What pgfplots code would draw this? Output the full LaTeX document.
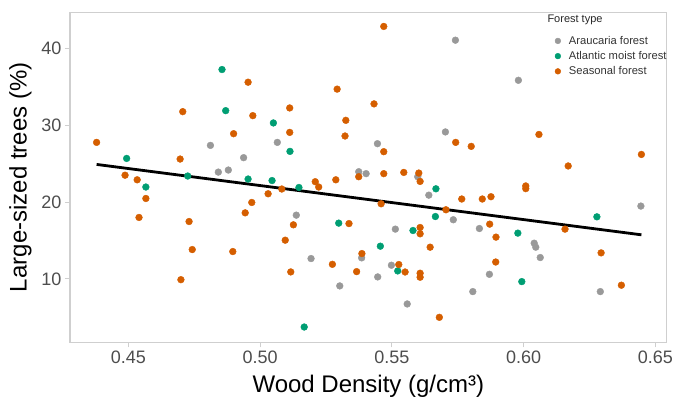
\documentclass[border=0pt]{standalone}
\usepackage{pgfplots}
\pgfplotsset{compat=1.18}
\usepackage{pgfplotstable}
\usepackage{fontspec}
\setmainfont{Liberation Sans}

\definecolor{araucaria}{HTML}{999999}
\definecolor{atlantic}{HTML}{009E73}
\definecolor{seasonal}{HTML}{D55E00}
\definecolor{panelgray}{HTML}{CFCFCF}
\definecolor{ticktext}{HTML}{4D4D4D}

% wood density (g/cm^3) vs share of large-sized trees (%)
\pgfplotstableread{
wd     lt
0.4811 27.38
0.4841 23.90
0.4879 24.17
0.4937 25.78
0.5065 27.77
0.5137 18.30
0.5193 12.65
0.5302 9.09
0.5374 23.95
0.5402 23.70
0.5385 12.74
0.5445 27.60
0.5446 10.26
0.5498 11.78
0.5513 16.48
0.5558 6.74
0.5598 23.30
0.5640 20.90
0.5703 29.13
0.5733 17.70
0.5741 41.07
0.5807 8.35
0.5832 16.56
0.5870 10.60
0.5980 35.85
0.6040 14.65
0.6046 14.13
0.6063 12.78
0.6291 8.35
0.6445 19.48
}\araucariadata

\pgfplotstableread{
wd     lt
0.4493 25.68
0.4566 21.96
0.4725 23.39
0.4855 37.25
0.4869 31.90
0.4954 23.00
0.5045 22.80
0.5050 30.30
0.5113 26.60
0.5147 21.90
0.5167 3.74
0.5298 17.26
0.5456 14.26
0.5522 11.04
0.5580 16.30
0.5665 18.12
0.5667 21.73
0.5993 9.65
0.5978 15.96
0.6278 18.08
}\atlanticdata

\pgfplotstableread{
wd     lt
0.4379 27.77
0.4487 23.50
0.4533 22.90
0.4566 20.47
0.4540 18.00
0.4696 25.60
0.4706 31.77
0.4730 17.47
0.4742 13.82
0.4699 9.90
0.4899 28.90
0.4896 13.56
0.4943 18.60
0.4954 35.60
0.4968 19.95
0.4972 31.25
0.5030 21.08
0.5082 21.70
0.5095 15.04
0.5112 32.25
0.5112 29.07
0.5116 10.91
0.5126 17.04
0.5209 22.65
0.5222 21.96
0.5274 11.90
0.5287 22.90
0.5292 34.70
0.5322 28.60
0.5325 30.64
0.5337 17.20
0.5366 10.95
0.5374 23.30
0.5386 13.30
0.5432 32.78
0.5459 19.78
0.5469 42.86
0.5469 26.56
0.5469 23.70
0.5526 11.87
0.5545 23.86
0.5550 10.90
0.5602 23.78
0.5607 22.69
0.5607 16.69
0.5607 15.87
0.5607 10.74
0.5607 10.22
0.5645 14.13
0.5680 5.00
0.5705 19.00
0.5742 27.77
0.5765 20.40
0.5801 27.25
0.5843 20.40
0.5871 17.13
0.5876 20.70
0.5894 12.20
0.5895 15.44
0.6008 21.75
0.6008 22.10
0.6058 28.80
0.6157 16.48
0.6169 24.70
0.6294 13.39
0.6371 9.18
0.6447 26.20
}\seasonaldata

\begin{document}
\begin{tikzpicture}
\useasboundingbox (-70pt,-57.7pt) rectangle (604pt,342.3pt);
\begin{axis}[
  scale only axis,
  width=596.7pt, height=330pt,
  xmin=0.4278, xmax=0.6543,
  ymin=1.75, ymax=44.7,
  xtick={0.45,0.50,0.55,0.60,0.65},
  ytick={10,20,30,40},
  xticklabel style={/pgf/number format/.cd, fixed, fixed zerofill, precision=2},
  /pgf/number format/assume math mode=true,
  tick label style={font=\fontsize{18}{20}\selectfont, text=ticktext},
  tick align=outside,
  major tick length=5pt,
  tick style={draw=panelgray, line width=1.1pt},
  axis line style={draw=panelgray, line width=1.3pt},
  xtick pos=bottom, ytick pos=left,
  xlabel={Wood Density (g/cm³)},
  ylabel={Large-sized trees (\%)},
  label style={font=\fontsize{24}{28}\selectfont},
  xlabel style={at={(rel axis cs:0.5,0)}, anchor=base, yshift=-49.7pt},
  ylabel style={at={(rel axis cs:0,0.5)}, anchor=base, yshift=43.3pt},
  legend style={at={(rel axis cs:0.8106,0.933)}, anchor=north west,
    draw=none, fill=none, inner sep=0pt, row sep=2.6pt,
    font=\fontsize{11.2}{13}\selectfont, text=black!80,
    nodes={inner sep=1.5pt}},
  legend cell align=left,
  legend image code/.code={\path[draw=none, fill=none] (-4pt,0pt) -- (9.5pt,0pt);
    \draw[#1, mark size=2.9pt] plot coordinates {(0pt,0pt)};},
  every axis plot/.append style={only marks, mark=*, mark size=3.4pt},
]
% panel frame
\draw[panelgray, line width=1.3pt] (rel axis cs:0,0) rectangle (rel axis cs:1,1);
\addplot[color=araucaria] table[x=wd, y=lt] {\araucariadata};
\addlegendentry{Araucaria forest}
\addplot[color=atlantic] table[x=wd, y=lt] {\atlanticdata};
\addlegendentry{Atlantic moist forest}
\addplot[color=seasonal] table[x=wd, y=lt] {\seasonaldata};
\addlegendentry{Seasonal forest}
% fitted linear trend
\addplot[black, line width=2.8pt, no marks, sharp plot, forget plot] coordinates {(0.4379,24.90) (0.6447,15.74)};
\end{axis}
\node[anchor=west, inner sep=0pt, font=\fontsize{11}{13}\selectfont, text=black!85] at (477.3pt,322.6pt) {Forest type};
\end{tikzpicture}
\end{document}
